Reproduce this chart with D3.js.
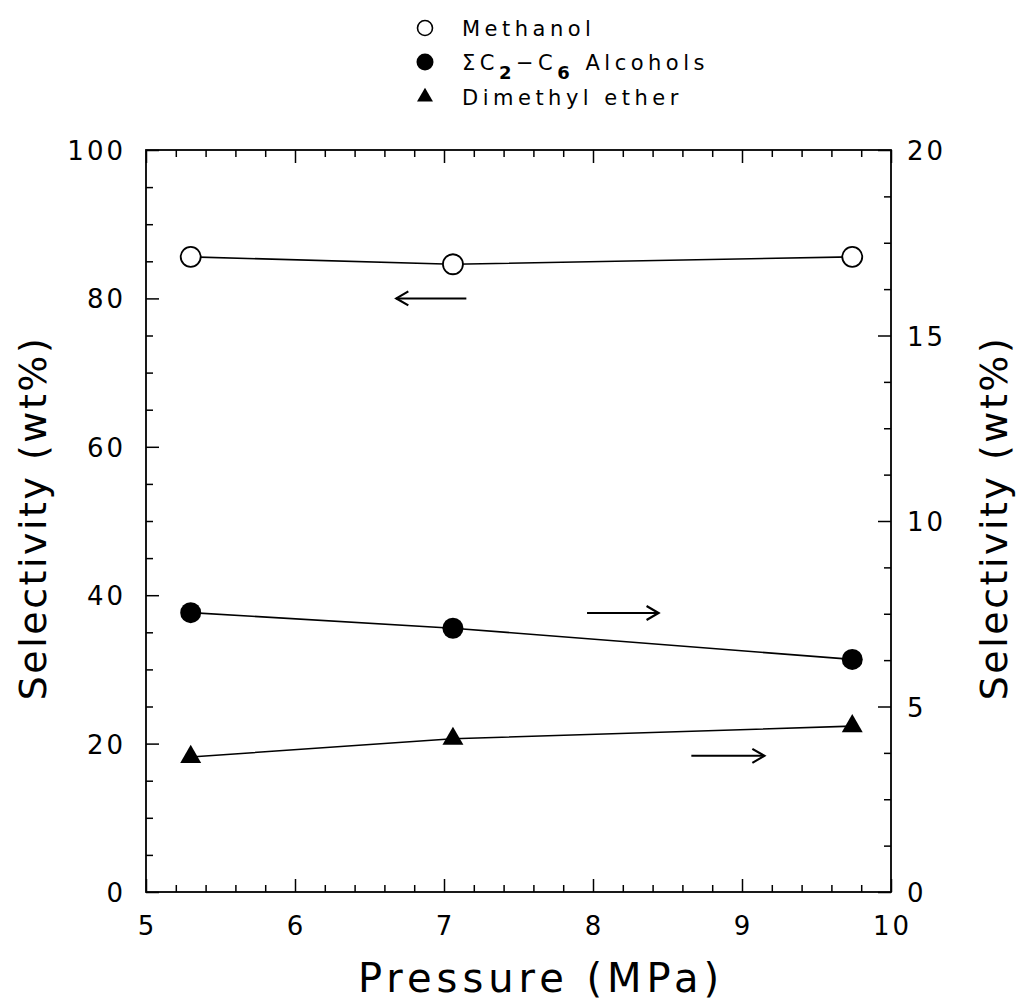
<!DOCTYPE html>
<html>
<head>
<meta charset="utf-8">
<script src="https://cdn.jsdelivr.net/npm/d3@7"></script>
<style>
  html, body { margin: 0; padding: 0; background: #fff; }
  svg { display: block; }
  text { font-family: "DejaVu Sans", "Liberation Sans", sans-serif; fill: #000; }
</style>
</head>
<body>
<svg id="chart" width="1018" height="1002"></svg>
<script>
// Pressure (MPa) at which each selectivity was measured
const pressure = [5.3, 7.06, 9.74];
// Methanol selectivity, left axis (wt%)
const methanol = [85.6, 84.6, 85.6];
// Sum of C2-C6 alcohols selectivity, right axis (wt%)
const alcohols = [7.53, 7.11, 6.27];
// Dimethyl ether selectivity, right axis (wt%)
const dme = [3.64, 4.13, 4.47];

const xTicks = [5, 6, 7, 8, 9, 10];
const yLeftTicks = [0, 20, 40, 60, 80, 100];
const yRightTicks = [0, 5, 10, 15, 20];

const svg = d3.select("#chart");
const L = 146, R = 891, T = 150, B = 892;

const x = d3.scaleLinear().domain([5, 10]).range([L, R]);
const yL = d3.scaleLinear().domain([0, 100]).range([B, T]);
const yR = d3.scaleLinear().domain([0, 20]).range([B, T]);

const stroke = "#000";
const majorLen = 13, minorLen = 7;

// Inward tick marks on all four sides
function ticks(axisFn, scale, values, len, tx, ty) {
  const g = svg.append("g").attr("transform", `translate(${tx},${ty})`)
    .call(axisFn(scale).tickValues(values).tickSize(-len).tickFormat(""));
  g.select(".domain").remove();
  g.selectAll("line").attr("stroke", stroke).attr("stroke-width", 1.5);
  return g;
}
const xMinor = d3.range(5, 10.001, 0.2).filter(v => Math.abs(v - Math.round(v)) > 1e-6);
const yLMinor = d3.range(0, 100.001, 5).filter(v => v % 20 !== 0);
const yRMinor = d3.range(0, 20.001, 1.25).filter(v => Math.abs(v % 5) > 1e-6);

ticks(d3.axisBottom, x, xTicks, majorLen, 0, B);
ticks(d3.axisBottom, x, xMinor, minorLen, 0, B);
ticks(d3.axisTop, x, xTicks, majorLen, 0, T);
ticks(d3.axisTop, x, xMinor, minorLen, 0, T);
ticks(d3.axisLeft, yL, yLeftTicks, majorLen, L, 0);
ticks(d3.axisLeft, yL, yLMinor, minorLen, L, 0);
ticks(d3.axisRight, yR, yRightTicks, majorLen, R, 0);
ticks(d3.axisRight, yR, yRMinor, minorLen, R, 0);

// Plot frame
svg.append("rect").attr("x", L).attr("y", T).attr("width", R - L).attr("height", B - T)
  .attr("fill", "none").attr("stroke", stroke).attr("stroke-width", 1.8);

// Tick labels
const tickFont = 26, tickLS = 3;
svg.append("g").selectAll("text").data(xTicks).join("text")
  .attr("x", d => x(d) + tickLS / 2).attr("y", B + 43)
  .attr("text-anchor", "middle").attr("font-size", tickFont)
  .attr("letter-spacing", tickLS).text(d => d);
svg.append("g").selectAll("text").data(yLeftTicks).join("text")
  .attr("x", L - 20).attr("y", d => yL(d) + 10)
  .attr("text-anchor", "end").attr("font-size", tickFont)
  .attr("letter-spacing", tickLS).text(d => d);
svg.append("g").selectAll("text").data(yRightTicks).join("text")
  .attr("x", R + 16).attr("y", d => yR(d) + 10)
  .attr("text-anchor", "start").attr("font-size", tickFont)
  .attr("letter-spacing", tickLS).text(d => d);

// Axis titles
svg.append("text").attr("x", 541).attr("y", 992)
  .attr("text-anchor", "middle").attr("font-size", 40).attr("letter-spacing", 5)
  .text("Pressure (MPa)");
svg.append("text").attr("transform", "translate(46,518) rotate(-90)")
  .attr("text-anchor", "middle").attr("font-size", 38).attr("letter-spacing", 2.5)
  .text("Selectivity (wt%)");
svg.append("text").attr("transform", "translate(1007,518) rotate(-90)")
  .attr("text-anchor", "middle").attr("font-size", 38).attr("letter-spacing", 2.5)
  .text("Selectivity (wt%)");

// Series lines
function series(values, yScale) {
  return pressure.map((p, i) => [x(p), yScale(values[i])]);
}
const line = d3.line();
svg.append("path").attr("d", line(series(methanol, yL)))
  .attr("fill", "none").attr("stroke", stroke).attr("stroke-width", 1.6);
svg.append("path").attr("d", line(series(alcohols, yR)))
  .attr("fill", "none").attr("stroke", stroke).attr("stroke-width", 1.6);
svg.append("path").attr("d", line(series(dme, yR)))
  .attr("fill", "none").attr("stroke", stroke).attr("stroke-width", 1.6);

// Markers
const tri = d3.symbol().type(d3.symbolTriangle).size(190);
svg.append("g").selectAll("circle").data(series(methanol, yL)).join("circle")
  .attr("cx", d => d[0]).attr("cy", d => d[1]).attr("r", 10)
  .attr("fill", "#fff").attr("stroke", stroke).attr("stroke-width", 1.8);
svg.append("g").selectAll("circle").data(series(alcohols, yR)).join("circle")
  .attr("cx", d => d[0]).attr("cy", d => d[1]).attr("r", 10.5)
  .attr("fill", "#000");
svg.append("g").selectAll("path").data(series(dme, yR)).join("path")
  .attr("transform", d => `translate(${d[0]},${d[1]})`).attr("d", tri)
  .attr("fill", "#000");

// Arrows pointing to the axis each curve belongs to
function arrow(x1, x2, y) {
  const dir = Math.sign(x2 - x1);
  svg.append("line").attr("x1", x1).attr("x2", x2).attr("y1", y).attr("y2", y)
    .attr("stroke", stroke).attr("stroke-width", 2);
  svg.append("path")
    .attr("d", `M${x2 - dir * 12},${y - 7} L${x2},${y} L${x2 - dir * 12},${y + 7}`)
    .attr("fill", "none").attr("stroke", stroke).attr("stroke-width", 2.2);
}
arrow(x(7.15), x(6.68), yL(80));
arrow(x(7.96), x(8.44), yR(7.52));
arrow(x(8.66), x(9.15), yR(3.67));

// Legend
const legX = 425, legText = 462, legFont = 21, legLS = 4.5;
const lg = svg.append("g");
lg.append("circle").attr("cx", legX).attr("cy", 28).attr("r", 7.5)
  .attr("fill", "#fff").attr("stroke", stroke).attr("stroke-width", 1.6);
lg.append("circle").attr("cx", legX).attr("cy", 62).attr("r", 8.5).attr("fill", "#000");
lg.append("path").attr("transform", `translate(${legX},${97})`)
  .attr("d", d3.symbol().type(d3.symbolTriangle).size(110)).attr("fill", "#000");

lg.append("text").attr("x", legText).attr("y", 36).attr("font-size", legFont)
  .attr("letter-spacing", legLS).text("Methanol");
const t2 = lg.append("text").attr("x", legText).attr("y", 70).attr("font-size", legFont)
  .attr("letter-spacing", legLS);
t2.append("tspan").text("ΣC");
t2.append("tspan").attr("dy", 9).attr("font-size", 18).attr("font-weight", "bold").text("2");
t2.append("tspan").attr("dy", -9).text("−C");
t2.append("tspan").attr("dy", 9).attr("font-size", 18).attr("font-weight", "bold").text("6");
t2.append("tspan").attr("dy", -9).text(" Alcohols");
lg.append("text").attr("x", legText).attr("y", 105).attr("font-size", legFont)
  .attr("letter-spacing", legLS).text("Dimethyl ether");
</script>
</body>
</html>
